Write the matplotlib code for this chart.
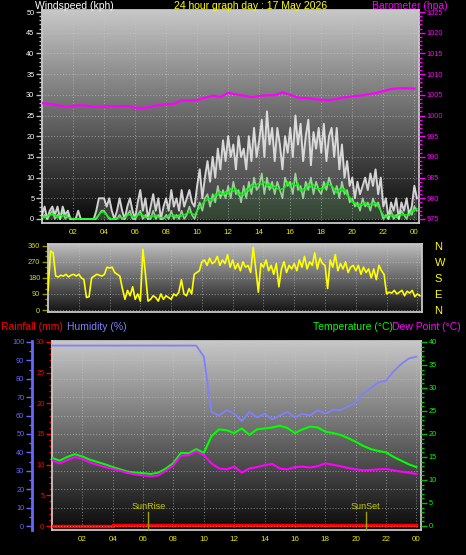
import numpy as np
import pandas as pd
import matplotlib.pyplot as plt
from matplotlib.ticker import MultipleLocator
import matplotlib.transforms as mtransforms

plt.rcParams['font.family'] = ['Liberation Sans', 'DejaVu Sans']

# ---- datos (10 min: viento / direccion, 30 min: resto) ----
gust = [
    1, 3, 0, 2, 3, 1,
    3, 0, 3, 1, 2, 0,
    0, 0, 2, 0, 0, 0,
    0, 0, 0, 2, 5, 5,
    5, 3, 5, 2, 0, 2,
    5, 2, 0, 3, 5, 2,
    0, 4, 7, 2, 5, 0,
    3, 6, 2, 5, 0, 3,
    5, 2, 7, 3, 5, 2,
    7, 3, 5, 7, 4, 3,
    8, 12, 5, 10, 14, 9,
    15, 10, 17, 12, 19, 14,
    20, 15, 18, 12, 20, 15,
    17, 12, 20, 14, 22, 15,
    19, 24, 15, 26, 18, 22,
    14, 22, 18, 12, 20, 16,
    22, 15, 25, 18, 23, 14,
    20, 24, 13, 21, 17, 22,
    16, 23, 14, 20, 22, 15,
    22, 12, 18, 10, 14, 8,
    10, 5, 9, 6, 8, 10,
    7, 11, 8, 12, 6, 10,
    3, 5, 0, 4, 2, 5,
    0, 4, 2, 5, 1, 3,
    8, 5,
]
avg_wind = [
    0, 1, 0, 1, 2, 0,
    1, 0, 2, 0, 1, 0,
    0, 0, 0, 0, 0, 0,
    0, 0, 0, 0, 1, 2,
    2, 1, 0, 0, 0, 0,
    1, 0, 0, 1, 2, 0,
    0, 1, 2, 0, 1, 0,
    0, 2, 0, 1, 0, 0,
    1, 0, 2, 0, 1, 0,
    2, 0, 1, 3, 1, 0,
    2, 4, 2, 5, 6, 3,
    6, 4, 8, 5, 7, 5,
    8, 5, 9, 6, 7, 4,
    8, 5, 9, 6, 10, 7,
    8, 11, 6, 10, 7, 9,
    6, 9, 7, 5, 10, 8,
    9, 6, 11, 7, 8, 5,
    9, 7, 10, 6, 9, 7,
    6, 9, 7, 10, 8, 6,
    8, 5, 9, 6, 7, 4,
    5, 3, 4, 2, 5, 3,
    4, 2, 5, 3, 4, 2,
    0, 1, 0, 2, 0, 1,
    0, 2, 1, 0, 2, 1,
    3, 2,
]
direction = [
    110, 330, 320, 190, 185, 195,
    190, 200, 185, 195, 200, 190,
    200, 180, 170, 70, 75, 180,
    190, 200, 195, 190, 200, 240,
    235, 240, 210, 200, 190, 120,
    60, 110, 80, 130, 60, 90,
    50, 340, 200, 50, 60, 80,
    70, 50, 90, 60, 80, 70,
    60, 90, 80, 100, 170, 90,
    80, 120, 90, 200, 210, 220,
    270, 280, 250, 290, 260, 270,
    300, 250, 280, 260, 310, 240,
    280, 230, 260, 220, 270, 240,
    250, 210, 350, 230, 100, 260,
    240, 280, 220, 250, 200, 260,
    130, 230, 270, 210, 250, 230,
    260, 220, 280, 240, 300, 230,
    270, 250, 320, 230, 290, 260,
    250, 120, 280, 240, 310, 220,
    260, 230, 270, 210, 240, 250,
    220, 250, 200, 240, 210, 230,
    180, 230, 170, 250, 220, 200,
    90, 100, 95, 110, 90, 100,
    110, 80, 105, 95, 110, 75,
    90, 80,
]
baro = [1003.0, 1002.8, 1002.5, 1002.1, 1002.3, 1002.5, 1002.3, 1002.1,
        1002.2, 1002.3, 1002.2, 1002.3, 1001.9, 1001.8, 1002.1, 1002.5,
        1002.7, 1002.8, 1003.7, 1003.6, 1003.7, 1004.3, 1004.8, 1004.5,
        1005.5, 1005.1, 1004.8, 1004.5, 1004.7, 1004.9, 1004.9, 1005.6,
        1005.0, 1004.3, 1004.2, 1004.0, 1003.8, 1003.7, 1004.0, 1004.4,
        1004.6, 1004.8, 1005.1, 1005.4, 1005.9, 1006.4, 1006.6, 1006.6,
        1006.5]
temp = [14.8, 14.2, 15.0, 15.6, 15.1, 14.4, 13.9, 13.4, 12.8, 12.3,
        11.8, 11.6, 11.5, 11.3, 11.6, 12.5, 13.7, 15.9, 15.8, 16.7,
        15.9, 19.5, 21.0, 20.8, 20.2, 21.2, 19.8, 21.0, 21.2, 21.4,
        21.8, 21.3, 20.2, 21.0, 21.6, 21.4, 20.5, 20.2, 19.8, 19.1,
        18.3, 17.4, 16.7, 16.3, 16.0, 15.0, 14.2, 13.4, 12.8]
dew = [14.3, 13.6, 14.3, 15.0, 14.6, 13.8, 13.3, 12.8, 12.4, 12.0,
       11.5, 11.2, 11.0, 10.8, 11.0, 12.0, 13.2, 15.3, 15.4, 16.2,
       15.4, 13.6, 12.5, 12.3, 12.9, 11.6, 12.5, 12.8, 13.2, 13.5,
       12.5, 12.3, 12.8, 12.9, 12.7, 13.0, 13.6, 13.3, 13.0, 12.6,
       12.3, 12.1, 12.2, 12.3, 12.4, 12.1, 11.8, 11.6, 11.3]
humidity = [98, 98, 98, 98, 98, 98, 98, 98, 98, 98,
            98, 98, 98, 98, 98, 98, 98, 98, 98, 98,
            92, 62, 60, 63, 61, 57, 62, 59, 61, 58,
            60, 62, 59, 61, 60, 63, 61, 63, 63, 65,
            67, 72, 75, 78, 79, 84, 88, 91, 92]
rain = [0, 0, 0, 0, 0, 0, 0, 0,
        0.2, 0.2, 0.2, 0.2, 0.2, 0.2, 0.2, 0.2, 0.2, 0.2,
        0.2, 0.2, 0.2, 0.2, 0.2, 0.2, 0.2, 0.2, 0.2, 0.2,
        0.2, 0.2, 0.2, 0.2, 0.2, 0.2, 0.2, 0.2, 0.2, 0.2,
        0.2, 0.2, 0.2, 0.2, 0.2, 0.2, 0.2, 0.2, 0.2, 0.2, 0.2]
sunrise_h = 6.35
sunset_h = 20.65
hour_ticks = list(range(2, 25, 2))
hour_labels = ['02', '04', '06', '08', '10', '12', '14', '16', '18', '20', '22', '00']

t10 = np.arange(len(gust)) / 6
t30 = np.arange(len(temp)) / 2
avg_smooth = pd.Series(avg_wind).rolling(3, center=True, min_periods=1).mean()

W, H = 466, 555
YEL = '#e8e800'
GRID = dict(color='#c8c8c8', linestyle=(0, (1, 2)), linewidth=0.7, alpha=0.6)


def caja(l, t, r, b):
    return [l / W, 1 - b / H, (r - l) / W, (b - t) / H]


def fondo(ax, arriba, abajo):
    g = np.linspace(arriba, abajo, 256).reshape(-1, 1)
    x0, x1 = ax.get_xlim()
    y0, y1 = ax.get_ylim()
    ax.imshow(g, cmap='gray', vmin=0, vmax=1, extent=(x0, x1, y0, y1),
              aspect='auto', zorder=0, interpolation='bilinear')
    ax.set_xlim(x0, x1)
    ax.set_ylim(y0, y1)


def marco(ax):
    for s in ax.spines.values():
        s.set_color('#c8c8c8')
        s.set_linewidth(1.3)


def ejes_y(ax, mayor, menor, color_tick, color_txt):
    ax.yaxis.set_major_locator(MultipleLocator(mayor))
    ax.yaxis.set_minor_locator(MultipleLocator(menor))
    ax.tick_params(axis='y', which='major', length=4, width=1, color=color_tick,
                   labelcolor=color_txt, labelsize=5.3, pad=1.5)
    ax.tick_params(axis='y', which='minor', length=2, width=1, color=color_tick)


fig = plt.figure(figsize=(W / 100, H / 100), dpi=100, facecolor='black')

#* Panel 1: viento y barometro
ax1 = fig.add_axes(caja(42, 10, 419, 223))
ax1.set_xlim(0, 24.3)
ax1.set_ylim(-0.97, 50.5)
fondo(ax1, 0.78, 0.03)
marco(ax1)
ax1.grid(**GRID)
ax1.fill_between(t10, avg_wind, gust, color='white', alpha=0.18, lw=0, zorder=2)
ax1.plot(t10, gust, color='#f0f0f0', lw=1.4, alpha=0.85, zorder=3)
ax1.fill_between(t10, 0, avg_wind, color='#b0f0b0', alpha=0.25, lw=0, zorder=3)
ax1.plot(t10, avg_wind, color='#b0f0b0', lw=1.2, alpha=0.8, zorder=4)
ax1.plot(t10, avg_smooth, color='#00ff00', lw=1, zorder=5)
ejes_y(ax1, 5, 1, '#c0c0c0', 'white')
ax1.set_xticks(hour_ticks, hour_labels)
ax1.tick_params(axis='x', length=0, pad=4, labelsize=5.8, labelcolor=YEL)

bx1 = ax1.twinx()
bx1.set_ylim(974.03, 1025.5)
for s in bx1.spines.values():
    s.set_visible(False)
bx1.plot(t30, baro, color='#ff00ff', lw=1.6)
ejes_y(bx1, 5, 1, '#ff00ff', '#ff00ff')

#* Panel 2: direccion del viento
ax2 = fig.add_axes(caja(48, 244, 422, 312))
ax2.set_xlim(0, 24.3)
ax2.set_ylim(-11, 369.5)
fondo(ax2, 0.74, 0.08)
marco(ax2)
ax2.set_xticks(hour_ticks)
ax2.tick_params(axis='x', length=0, labelbottom=False)
ax2.grid(**GRID)
ax2.plot(t10, direction, color='#ffff00', lw=1.2, zorder=3)
ejes_y(ax2, 90, 30, '#909000', '#d0e000')

bx2 = ax2.twinx()
bx2.set_ylim(-11, 369.5)
for s in bx2.spines.values():
    s.set_visible(False)
bx2.set_yticks([0, 90, 180, 270, 360], ['N', 'E', 'S', 'W', 'N'])
bx2.tick_params(axis='y', length=0, pad=9, labelsize=8, labelcolor='#ffff00')

#* Panel 3: lluvia, humedad, temperatura y punto de rocio
ax3 = fig.add_axes(caja(52, 341, 421, 530))
ax3.set_xlim(0, 24.3)
ax3.set_ylim(-0.65, 30.16)
fondo(ax3, 0.78, 0.04)
marco(ax3)
ax3.grid(axis='x', **GRID)
ax3.plot(t30, rain, drawstyle='steps-post', color='#ff0000', lw=2.5, zorder=3)
ejes_y(ax3, 5, 1, '#ff0000', '#ff0000')
ax3.set_xticks(hour_ticks, hour_labels)
ax3.tick_params(axis='x', length=0, pad=4, labelsize=5.8, labelcolor=YEL)

hx = ax3.twinx()
hx.yaxis.tick_left()
hx.set_ylim(-2.17, 100.5)
for s in hx.spines.values():
    s.set_visible(False)
hx.spines['left'].set_visible(True)
hx.spines['left'].set_position(('outward', 14.4))
hx.spines['left'].set_color('#6868ff')
hx.spines['left'].set_linewidth(2)
hx.grid(axis='y', **GRID)
hx.plot(t30, humidity, color='#8080ff', lw=1.3)
ejes_y(hx, 10, 5, '#6868ff', '#6868ff')

tx = ax3.twinx()
tx.set_ylim(-0.87, 40.2)
for s in tx.spines.values():
    s.set_visible(False)
tx.plot(t30, temp, color='#00ff00', lw=1.5)
tx.plot(t30, dew, color='#ff00ff', lw=1.5)
ejes_y(tx, 5, 1, '#00c000', '#00ff00')

trans = mtransforms.blended_transform_factory(tx.transData, tx.transAxes)
for hora, nombre in [(sunrise_h, 'SunRise'), (sunset_h, 'SunSet')]:
    tx.plot([hora, hora], [0, 0.097], transform=trans, color='#a0a000', lw=1)
    tx.text(hora, 0.111, nombre, transform=trans, ha='center', va='baseline',
            fontsize=6.5, color='#c8c800')

#* Titulos
def texto(x, y, s, color, ha='left'):
    fig.text(x / W, 1 - y / H, s, color=color, fontsize=7.5, ha=ha, va='baseline')


texto(35, 9, 'Windspeed (kph)', 'white')
texto(251, 9, '24 hour graph day : 17 May 2026', '#ffff00', ha='center')
texto(372, 9, 'Barometer (hpa)', '#ff00ff')
texto(1, 330, 'Rainfall (mm)', '#ff0000')
texto(67, 330, 'Humidity (%)', '#8080ff')
texto(313, 330, 'Temperature (°C)', '#00ff00')
texto(392, 330, 'Dew Point (°C)', '#ff00ff')

fig.savefig('out.png', dpi=100, facecolor='black')
